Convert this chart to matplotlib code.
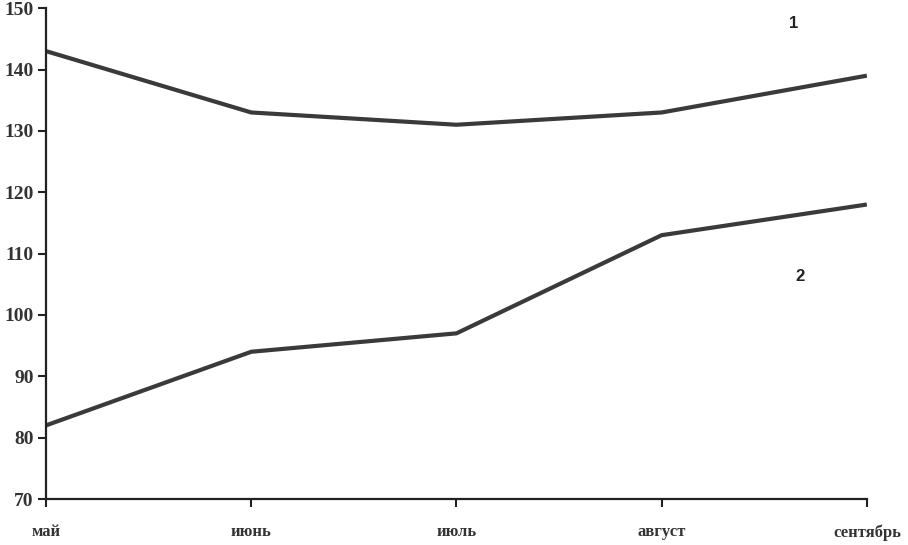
import matplotlib.pyplot as plt

months = ['май', 'июнь', 'июль', 'август', 'сентябрь']
series_1 = [143, 133, 131, 133, 139]
series_2 = [82, 94, 97, 113, 118]
y_ticks = [70, 80, 90, 100, 110, 120, 130, 140, 150]

fig = plt.figure(figsize=(9.08, 5.45), dpi=100)
ax = fig.add_axes([0.0507, 0.0844, 0.904, 0.9006])

x = range(len(months))
ax.plot(x, series_1, color='#3a3a3a', lw=3.0, solid_capstyle='butt')
ax.plot(x, series_2, color='#3a3a3a', lw=3.0, solid_capstyle='butt')

ax.set_xlim(0, len(months) - 1)
ax.set_ylim(70, 150)
ax.set_yticks(y_ticks)
ax.set_xticks(list(x))
ax.set_xticklabels(months)

for side in ['top', 'right']:
    ax.spines[side].set_visible(False)
for side in ['left', 'bottom']:
    ax.spines[side].set_linewidth(1.6)
    ax.spines[side].set_color('#222222')

ax.tick_params(axis='both', direction='out', length=6, width=1.5, color='#222222')
ax.tick_params(axis='x', pad=12)
ax.tick_params(axis='y', pad=3)
for lbl in ax.get_yticklabels():
    lbl.set_fontfamily('Liberation Serif')
    lbl.set_fontweight('bold')
    lbl.set_fontsize(14)
    lbl.set_color('#333333')
for lbl in ax.get_xticklabels():
    lbl.set_fontfamily('Liberation Serif')
    lbl.set_fontweight('bold')
    lbl.set_fontsize(12)
    lbl.set_color('#333333')

ax.text(3.62, 146.8, '1', fontsize=12, fontweight='bold', family='Liberation Sans', color='#222222')
ax.text(3.65, 105.5, '2', fontsize=12, fontweight='bold', family='Liberation Sans', color='#222222')

fig.savefig('out.png', dpi=100)
